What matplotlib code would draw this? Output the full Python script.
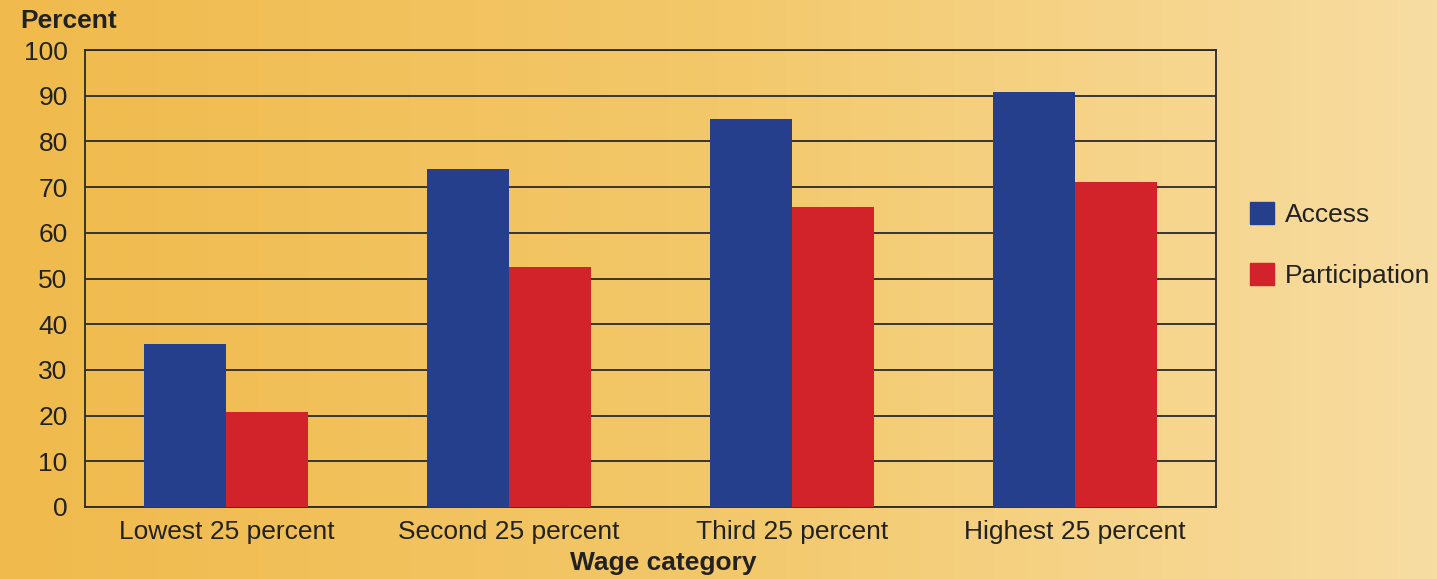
import numpy as np
import matplotlib.pyplot as plt
from matplotlib.colors import LinearSegmentedColormap
from matplotlib.patches import Patch

categories = ['Lowest 25 percent', 'Second 25 percent', 'Third 25 percent', 'Highest 25 percent']
access = [35.7, 74.0, 84.9, 90.9]
participation = [20.7, 52.5, 65.7, 71.1]

plt.rcParams['font.family'] = ['Liberation Sans', 'DejaVu Sans']
fs = 19

fig = plt.figure(figsize=(14.37, 5.79), dpi=100)

# warm gradient behind everything
bg = fig.add_axes([0, 0, 1, 1], zorder=-10)
grad = LinearSegmentedColormap.from_list('bg', ['#F0BA4C', '#F3C86A', '#F8DDA2'])
bg.imshow(np.linspace(0, 1, 256).reshape(1, -1), aspect='auto', cmap=grad, extent=[0, 1, 0, 1])
bg.set_axis_off()

ax = fig.add_axes([85 / 1437, 1 - 507 / 579, 1131 / 1437, 457 / 579])
ax.patch.set_alpha(0)

x = np.arange(len(categories))
w = 0.29
ax.bar(x - w / 2, access, w, color='#253F8C', zorder=3)
ax.bar(x + w / 2, participation, w, color='#D2232A', zorder=3)

ax.set_xlim(-0.5, 3.5)
ax.set_ylim(0, 100)
ax.set_yticks(range(0, 101, 10))
ax.set_xticks(x)
ax.set_xticklabels(categories)
ax.tick_params(length=0, labelsize=fs, colors='#222222')
ax.tick_params(axis='y', pad=12.5)
ax.tick_params(axis='x', pad=9)
ax.yaxis.grid(True, color='#2a2a2a', linewidth=1.3, zorder=1)
for s in ax.spines.values():
    s.set_color('#2a2a2a')
    s.set_linewidth(1.3)

fig.text(20 / 1437, 1 - 21 / 579, 'Percent', fontsize=fs, fontweight='bold',
         color='#222222', va='center', ha='left')
fig.text(663 / 1437, 1 - 563 / 579, 'Wage category', fontsize=fs, fontweight='bold',
         color='#222222', va='center', ha='center')

handles = [Patch(color='#253F8C', label='Access'), Patch(color='#D2232A', label='Participation')]
fig.legend(handles=handles, loc='center left', bbox_to_anchor=(1250 / 1437, 1 - 245 / 579),
           frameon=False, fontsize=fs, borderpad=0, borderaxespad=0,
           handlelength=0.91, handleheight=0.91,
           handletextpad=0.42, labelspacing=1.38, labelcolor='#222222')

fig.savefig('out.png', dpi=100)
